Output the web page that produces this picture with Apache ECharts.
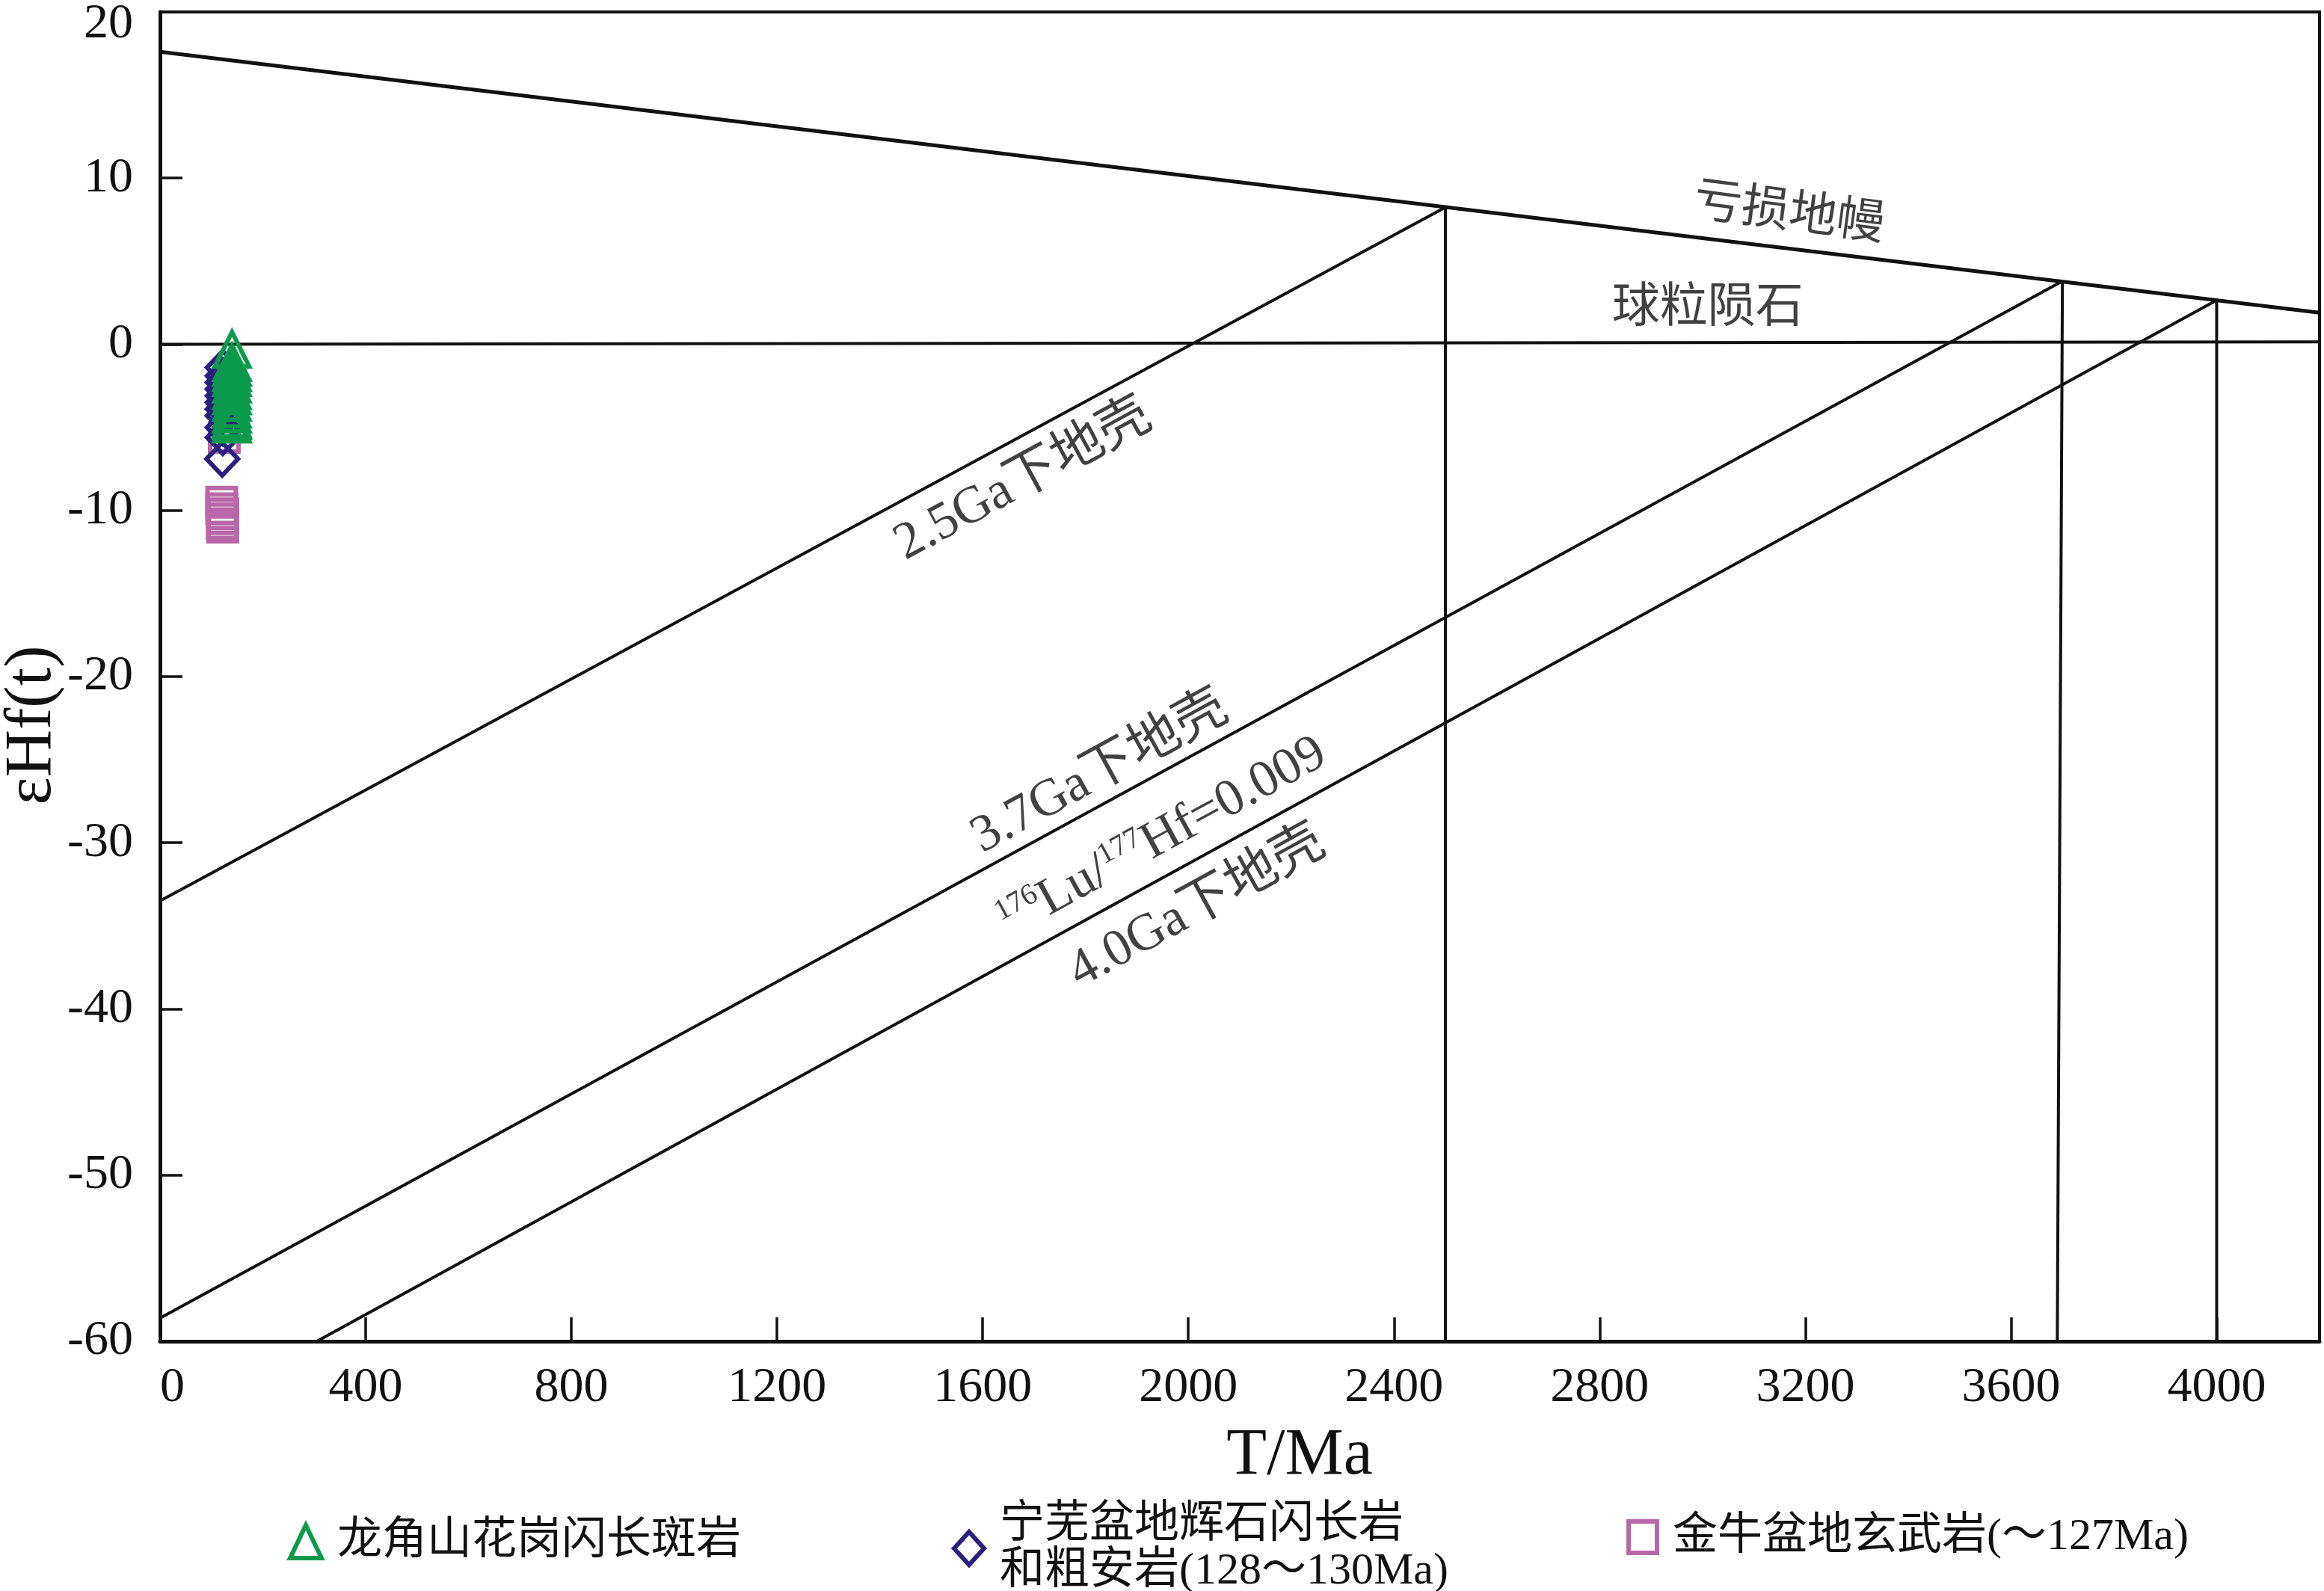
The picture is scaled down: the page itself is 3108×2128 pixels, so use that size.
<!DOCTYPE html>
<html><head><meta charset="utf-8">
<script src="https://cdn.jsdelivr.net/npm/echarts@6/dist/echarts.min.js"></script>
<style>html,body{margin:0;padding:0;background:#fff}#c{width:3108px;height:2128px}</style>
</head><body><div id="c"></div>
<script>
// ---- data ----
const seriesNames = ['龙角山花岗闪长斑岩', '宁芜盆地辉石闪长岩\n和粗安岩(128～130Ma)', '金牛盆地玄武岩(～127Ma)'];
const triAge = [140, 140, 140, 140, 140, 140, 140, 140, 140, 140, 140, 140, 140, 140];
const triEHf = [-0.3, -1.1, -1.4, -1.7, -2.0, -2.4, -2.8, -3.1, -3.5, -3.9, -4.2, -4.5, -4.6, -4.8];
const diaAge = [122, 122, 122, 122, 122, 122, 122, 122, 122, 122, 121];
const diaEHf = [-1.4, -1.9, -2.3, -2.7, -3.1, -3.5, -3.9, -4.3, -5.0, -5.6, -6.9];
const sqAge = [125, 120, 120, 122, 122, 121, 122];
const sqEHf = [-5.6, -9.5, -9.9, -10.2, -10.5, -10.8, -11.0];

const dmLine = [[0, 17.6], [4200, 1.9]];
const churLine = [[0, 0], [4200, 0.15]];
const crust25 = [[0, -33.5], [2500, 8.25]];
const crust37 = [[0, -58.6], [3700, 3.8]];
const crust40 = [[305, -60], [4000, 2.65]];
const vert25 = [[2500, 8.25], [2500, -60]];
const vert37 = [[3700, 3.8], [3690, -60]];
const vert40 = [[4000, 2.65], [4000, -60]];

const annoText = ['亏损地幔', '球粒陨石', '2.5Ga下地壳', '3.7Ga下地壳', '{sup|176}Lu/{sup|177}Hf=0.009', '4.0Ga下地壳'];
const annoX = [3168, 3010, 1679, 1828, 1950, 2017];
const annoY = [7.8, 2.15, -8.2, -25.8, -29.7, -33.9];
const annoRot = [-7.5, 0, 28.5, 28.7, 28.7, 28.8];

const xMin = 0, xMax = 4200, xInterval = 400;
const yMin = -60, yMax = 20, yInterval = 10;

// ---- styles ----
const SERIF = "'Liberation Serif','Times New Roman','Noto Sans CJK SC',serif";
const colors = ['#0b9a4b', '#2b1f7e', '#b868a8'];
const symbols = ['triangle', 'diamond', 'rect'];
const sizes = [[46, 46], [42, 44], [38, 38]];

const chart = echarts.init(document.getElementById('c'));

const lineSeries = [dmLine, churLine, crust25, crust37, crust40, vert25, vert37, vert40].map((d, i) => ({
  type: 'line', data: d, symbol: 'none', silent: true, z: 2,
  lineStyle: { color: '#111', width: i === 0 ? 5 : 4 }
}));

const ptSets = [[triAge, triEHf], [diaAge, diaEHf], [sqAge, sqEHf]];
const scatterSeries = [2, 1, 0].map(i => ({
  name: seriesNames[i], type: 'scatter', z: 5 + (2 - i),
  symbol: symbols[i], symbolSize: sizes[i],
  data: ptSets[i][0].map((x, k) => [x, ptSets[i][1][k]]),
  itemStyle: { color: 'rgba(255,255,255,0)', borderColor: colors[i], borderWidth: 6, opacity: 1 }
}));

const annoSeries = {
  type: 'scatter', silent: true, symbolSize: 0, z: 4,
  data: annoText.map((t, i) => ({
    value: [annoX[i], annoY[i]],
    label: { show: true, formatter: t, rotate: annoRot[i], position: 'inside',
      fontFamily: SERIF, fontSize: i < 2 ? 64 : 70, color: '#111',
      rich: { sup: { fontSize: 40, fontFamily: SERIF, color: '#111', padding: [0, 0, 34, 0] } } }
  }))
};

const legendPos = [[380, 2026], [1268, 2004], [2170, 2020]];
const legends = [0, 1, 2].map(i => ({
  data: [seriesNames[i]], left: legendPos[i][0], top: legendPos[i][1],
  itemWidth: i === 2 ? 38 : (i === 0 ? 42 : 40), itemHeight: i === 2 ? 42 : 44,
  selectedMode: false,
  itemStyle: { color: 'rgba(255,255,255,0)', borderColor: colors[i], borderWidth: 6 },
  textStyle: { fontFamily: SERIF, fontSize: 60, color: '#111', lineHeight: 62, padding: [0, 0, 0, 16] }
}));

chart.setOption({
  animation: false,
  backgroundColor: '#fff',
  grid: { left: 214, right: 6, top: 8, bottom: 334, show: true, borderColor: '#111', borderWidth: 4 },
  legend: legends,
  xAxis: {
    type: 'value', min: xMin, max: xMax, interval: xInterval,
    axisLine: { show: true, onZero: false, lineStyle: { color: '#111', width: 5 } },
    axisTick: { show: true, inside: true, length: 32, lineStyle: { color: '#111', width: 3.5 } },
    splitLine: { show: false },
    axisLabel: { fontFamily: SERIF, fontSize: 66, color: '#111', margin: 30, showMaxLabel: false, alignMinLabel: 'left',
      formatter: v => String(v) }
  },
  yAxis: {
    type: 'value', min: yMin, max: yMax, interval: yInterval,
    axisLine: { show: true, onZero: false, lineStyle: { color: '#111', width: 5 } },
    axisTick: { show: true, inside: true, length: 30, lineStyle: { color: '#111', width: 3.5 } },
    splitLine: { show: false },
    axisLabel: { fontFamily: SERIF, fontSize: 66, color: '#111', margin: 36,
      formatter: v => v === yMax ? '{t|' + v + '}' : String(v),
      rich: { t: { fontFamily: SERIF, fontSize: 66, color: '#111', padding: [34, 0, 0, 0] } } }
  },
  graphic: [
    { type: 'text', x: 1738, y: 1948, style: { text: 'T/Ma', font: '88px ' + SERIF, fill: '#111', align: 'center', verticalAlign: 'middle' } },
    { type: 'text', x: 44, y: 970, rotation: Math.PI / 2, style: { text: 'εHf(t)', font: '88px ' + SERIF, fill: '#111', align: 'center', verticalAlign: 'middle' } }
  ],
  series: [...lineSeries, annoSeries, ...scatterSeries]
});
</script></body></html>
